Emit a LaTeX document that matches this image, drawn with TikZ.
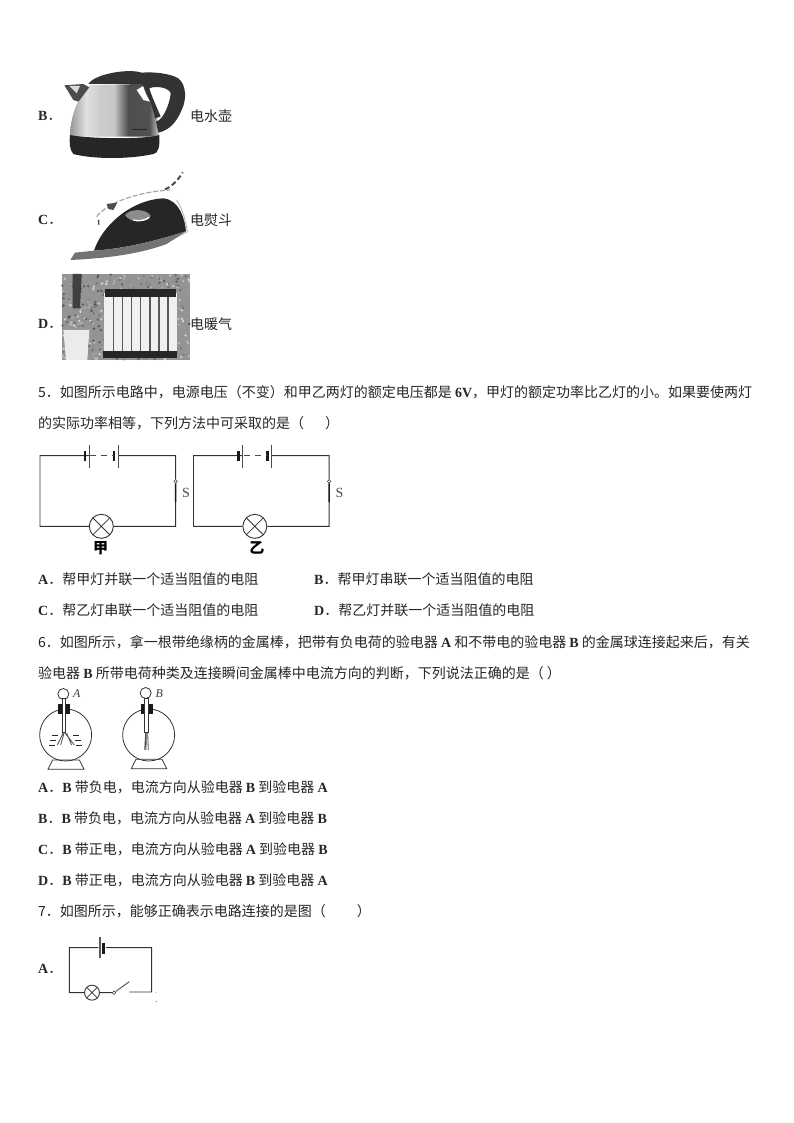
\documentclass[tikz,border=0pt]{standalone}
\usepackage{fontspec}
\setmainfont{Noto Sans CJK SC}
\newfontfamily\latbf[BoldFont={Liberation Serif Bold}]{Liberation Serif}
\newcommand{\lat}[1]{{\latbf\bfseries #1}}
\usetikzlibrary{calc}
\pgfdeclarehorizontalshading{kettlebody}{100bp}{
  color(0bp)=(black!60); color(22bp)=(black!50); color(34bp)=(black!12); color(42bp)=(black!20);
  color(50bp)=(black!22); color(58bp)=(black!70); color(70bp)=(black!68); color(76bp)=(black!14);
  color(86bp)=(black!16); color(100bp)=(black!45)}
\tikzset{
  txt/.style={anchor=west,inner sep=0pt,font=\fontsize{14pt}{15pt}\selectfont,text=black!85},
  wire/.style={draw=black!80,line width=0.9pt},
  lamp/.style={circle,draw=black!80,line width=0.9pt,fill=white,minimum size=24pt,inner sep=0pt,
    path picture={\draw[black!80,line width=0.8pt] (path picture bounding box.north west)--(path picture bounding box.south east)
      (path picture bounding box.north east)--(path picture bounding box.south west);}},
  lampsmall/.style={lamp,minimum size=15pt},
  ball/.style={circle,draw=black!80,line width=0.8pt,fill=white,minimum size=11pt,inner sep=0pt},
  pin/.style={circle,draw=black!80,line width=0.5pt,fill=white,minimum size=3.5pt,inner sep=0pt},
  hand/.style={inner sep=0pt,font=\latbf\itshape\fontsize{12pt}{12pt}\selectfont,text=black!75},
}
\newcommand{\circuit}[4]{%
 \begin{scope}[shift={(#1,440)},scale=1/3]
  \coordinate (#2tl) at (0,47); \coordinate (#2br) at (407,259);
  \node[lamp] (#2L) at (184,259) {};
  \node[pin] (#2P) at (407,124) {};
  \coordinate (#2Sb) at (407,186);
  \coordinate (#2b1) at (147,47); \coordinate (#2b2) at (236,47);
  \draw[wire] (#2L) -- (0,259) -- (#2tl) -- (#2b1) (#2b2) -- (407,47) -- (#2P) (#2Sb) -- (#2br) -- (#2L);
  \draw[black!90,line width=2.6pt] (135,32) -- (135,62) (222,32) -- (222,62);
  \draw[black!70,line width=0.9pt] (148,14) -- (148,84) (235,14) -- (235,84);
  \draw[black!70,line width=0.9pt,dash pattern=on 6pt off 5pt] (150,47) -- (221,47);
  \draw[black!90,line width=1.4pt] (#2P) -- (#2Sb);
  \node[font=\latbf\fontsize{14pt}{14pt}\selectfont,inner sep=0pt,text=black!70] (#2s) at (438,160) {S};
  \node[font=\bfseries\fontsize{15pt}{15pt}\selectfont,inner sep=0pt] (#2n) at (#3,325) {#4};
 \end{scope}}
\begin{document}
\begin{tikzpicture}[x=1pt,y=-1pt]
\useasboundingbox[fill=white] (0,0) rectangle (794,1123);
% kettle
\begin{scope}[shift={(30,60)},scale=1/3]
  \path[shading=kettlebody]
    (180,75) .. controls (150,110) and (122,150) .. (120,230) -- (385,230) .. controls (385,170) and (375,110) .. (340,72) -- cycle;
  \fill[white] (320,90) -- (340,78) .. controls (345,100) and (352,110) .. (360,125) -- (340,120) -- cycle;
  \fill[black!85] (305,207) rectangle (352,210);
  \fill[black!85] (120,225) .. controls (160,235) and (340,240) .. (388,225) .. controls (390,260) and (385,280) .. (370,282) .. controls (300,298) and (190,298) .. (130,282) .. controls (118,270) and (118,245) .. (120,225) -- cycle;
  \fill[black!80] (175,72) .. controls (195,40) and (300,25) .. (335,38) .. controls (370,35) and (420,40) .. (445,55) .. controls (470,75) and (470,120) .. (455,150) .. controls (440,185) and (420,210) .. (385,218) -- (378,185) .. controls (400,180) and (420,130) .. (422,100) .. controls (420,85) and (380,75) .. (358,85) .. controls (365,110) and (380,140) .. (392,170) -- (375,175) .. controls (365,130) and (350,90) .. (335,72) -- cycle;
  \fill[black!70] (103,76) -- (160,72) -- (178,82) -- (145,125) -- (130,120) -- cycle;
  \fill[white!85!black] (118,78) -- (150,78) -- (140,100) -- cycle;
\end{scope}
% iron
\begin{scope}[shift={(30,60)},scale=1/3]
  \draw[black!35,line width=1.2pt,dash pattern=on 5pt off 2pt] (200,470) .. controls (235,425) and (330,395) .. (420,390);
  \draw[black!70,line width=2pt,dash pattern=on 5pt off 3pt] (405,388) .. controls (425,380) and (445,360) .. (458,337);
  \fill[black!70] (230,432) -- (262,428) -- (250,450) -- (235,447) -- cycle;
  \fill[black!70] (203,480) -- (208,480) -- (208,495) -- (205,495) -- cycle;
  \draw[black!30,line width=0.8pt] (440,420) .. controls (460,450) and (468,490) .. (472,515) -- (410,548);
  \fill[black!85] (192,572) .. controls (215,500) and (300,420) .. (400,415) .. controls (450,420) and (465,480) .. (468,514) .. controls (400,535) and (300,565) .. (192,572) -- cycle;
  \fill[black!45] (285,465) .. controls (300,445) and (350,445) .. (362,468) .. controls (350,490) and (300,490) .. (285,465) -- cycle;
  \draw[white,line width=1.4pt] (310,480) .. controls (325,484) and (345,482) .. (358,472);
  \fill[black!55] (122,598) -- (135,578) -- (192,572) .. controls (300,565) and (400,535) .. (468,514) -- (410,552) .. controls (320,585) and (220,595) .. (122,600) -- cycle;
\end{scope}
% radiator
\begin{scope}[shift={(30,60)},scale=1/3]
  \fill[black!42] (95,642) rectangle (480,900);
  \pgfmathsetseed{7}
  \foreach \k in {1,...,500}{
    \pgfmathsetmacro{\px}{97+rnd*381}
    \pgfmathsetmacro{\py}{644+rnd*254}
    \pgfmathsetmacro{\sh}{int(15+rnd*55)}
    \fill[black!\sh] (\px,\py) circle (4);}
  \fill[black!75] (128,642) -- (155,642) -- (150,745) -- (128,745) -- cycle;
  \fill[white!92!black] (100,810) -- (178,810) -- (172,900) -- (108,900) -- cycle;
  \fill[white!94!black] (222,700) rectangle (440,880);
  \fill[black!85] (224,688) rectangle (438,710);
  \fill[black!85] (220,872) rectangle (442,895);
  \foreach \x in {250,277,305,332,360,387,414}{\draw[black!65,line width=1.3pt] (\x,710) -- (\x,872);}
\end{scope}
% labels
\node[txt] (tB) at (38,116) {\lat{B}．};
\node[txt] (tBn) at (190,116) {电水壶};
\node[txt] (tC) at (38,220) {\lat{C}．};
\node[txt] (tCn) at (190,220) {电熨斗};
\node[txt] (tD) at (38,324) {\lat{D}．};
\node[txt] (tDn) at (190,324) {电暖气};
\node[txt] (q5a) at (38,392) {5．如图所示电路中，电源电压（不变）和甲乙两灯的额定电压都是 \lat{6V}，甲灯的额定功率比乙灯的小。如果要使两灯};
\node[txt] (q5b) at (38,423) {的实际功率相等，下列方法中可采取的是（\hspace{1.5em}）};
\circuit{40}{a}{182}{甲}
\circuit{193.5}{b}{190}{乙}
\node[txt] (o5a) at (38,579) {\lat{A}．帮甲灯并联一个适当阻值的电阻};
\node[txt] (o5b) at (314,579) {\lat{B}．帮甲灯串联一个适当阻值的电阻};
\node[txt] (o5c) at (38,610) {\lat{C}．帮乙灯串联一个适当阻值的电阻};
\node[txt] (o5d) at (314,610) {\lat{D}．帮乙灯并联一个适当阻值的电阻};
\node[txt] (q6a) at (38,642) {6．如图所示，拿一根带绝缘柄的金属棒，把带有负电荷的验电器 \lat{A} 和不带电的验电器 \lat{B} 的金属球连接起来后，有关};
\node[txt] (q6b) at (38,673) {验电器 \lat{B} 所带电荷种类及连接瞬间金属棒中电流方向的判断，下列说法正确的是（ ）};
% electroscopes
\begin{scope}[shift={(30,680)},scale=1/3]
  \node[circle,draw=black!80,line width=0.8pt,minimum size=52pt,inner sep=0pt] (ga) at (107,165) {};
  \node[circle,draw=black!80,line width=0.8pt,minimum size=52pt,inner sep=0pt] (gb) at (356,165) {};
  \node[ball] (ba) at (100,42) {};
  \node[ball] (bb) at (347,39) {};
  \node[hand] (la) at (140,41) {A};
  \node[hand] (lb) at (388,41) {B};
  \fill[black!90] (84,71) rectangle (120,101);
  \fill[black!90] (332,71) rectangle (370,101);
  \draw[black!80,line width=0.7pt,fill=white] (97,55) rectangle (107,158);
  \draw[black!80,line width=0.7pt,fill=white] (344,55) rectangle (354,158);
  \draw[black!70,line width=0.8pt] (92,195) -- (102,160) (110,160) -- (125,195) (82,195) -- (99,160) (106,160) -- (133,195);
  \draw[black!70,line width=0.8pt] (344,210) -- (347,158) (353,158) -- (355,210) (349,158) -- (348,210);
  \draw[black!80,line width=0.8pt] (54,268) -- (68,240) -- (148,240) -- (162,268) -- cycle;
  \draw[black!80,line width=0.8pt] (304,266) -- (318,238) -- (396,238) -- (410,266) -- cycle;
  \foreach \a/\b in {65/165,60/180,57/195,130/165,136/180,138/195}{\draw[black!85,line width=1pt] (\a,\b) -- ++(18,0);}
\end{scope}
\node[txt] (o6a) at (38,787) {\lat{A}．\lat{B} 带负电，电流方向从验电器 \lat{B} 到验电器 \lat{A}};
\node[txt] (o6b) at (38,818) {\lat{B}．\lat{B} 带负电，电流方向从验电器 \lat{A} 到验电器 \lat{B}};
\node[txt] (o6c) at (38,849) {\lat{C}．\lat{B} 带正电，电流方向从验电器 \lat{A} 到验电器 \lat{B}};
\node[txt] (o6d) at (38,880) {\lat{D}．\lat{B} 带正电，电流方向从验电器 \lat{B} 到验电器 \lat{A}};
\node[txt] (q7) at (38,911) {7．如图所示，能够正确表示电路连接的是图（\hspace{2.2em}）};
\node[txt] (o7) at (38,969) {\lat{A}．};
% circuit A
\begin{scope}[shift={(30,925)},scale=1/3]
  \node[lampsmall] (c) at (186,203) {};
  \node[pin] (sw) at (252,203) {};
  \coordinate (ul) at (118,68); \coordinate (ur) at (365,68); \coordinate (e) at (298,201);
  \draw[wire] (c) -- (118,203) -- (ul) -- (205,68) (228,68) -- (ur) -- (365,201) -- (e);
  \draw[wire] (c) -- (sw);
  \draw[black!70,line width=0.9pt] (sw) -- (298,170);
  \draw[black!65,line width=1.1pt] (210,35) -- (210,100);
  \draw[black!90,line width=2.6pt] (221,53) -- (221,87);
  \fill[black!50] (377,202) circle (1.5) (379,229) circle (2);
\end{scope}
\end{tikzpicture}
\end{document}
